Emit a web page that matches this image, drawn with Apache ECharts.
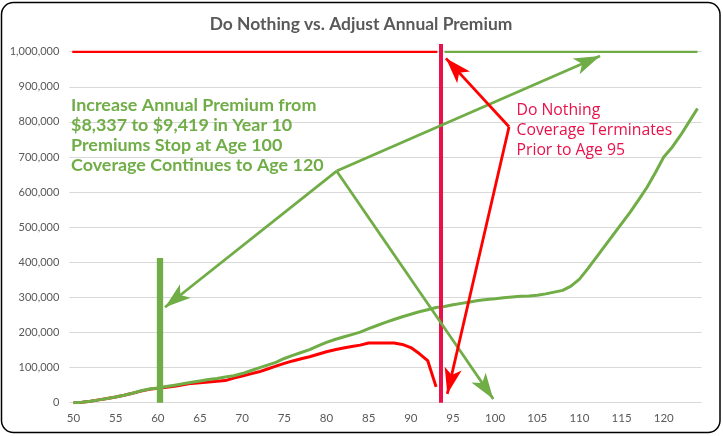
<!DOCTYPE html>
<html><head><meta charset="utf-8">
<script src="https://cdn.jsdelivr.net/npm/echarts@6/dist/echarts.min.js"></script>
<style>html,body{margin:0;padding:0;background:#fff}#c{width:723px;height:436px}</style>
</head><body><div id="c"></div>
<script>
// ---------- DATA ----------
const ages = ['50','51','52','53','54','55','56','57','58','59','60','61','62','63','64','65','66','67','68','69',
  '70','71','72','73','74','75','76','77','78','79','80','81','82','83','84','85','86','87','88','89',
  '90','91','92','93','94','95','96','97','98','99','100','101','102','103','104','105','106','107','108','109',
  '110','111','112','113','114','115','116','117','118','119','120','121','122','123','124'];

// Adjust Annual Premium - cash value (green)
const adjustCashValue = [0,1000,4000,8000,12000,16000,21000,27000,34000,39000,
  42000,46000,50000,54000,58000,62000,66000,69000,73000,77000,
  83000,91000,99000,107000,115000,126000,135000,143000,151000,162000,
  172000,180000,187000,194000,201000,211000,220000,229000,237000,245000,
  252000,259000,265000,271000,274000,279000,283000,287000,291000,294000,
  296000,299000,301000,303000,304000,306000,310000,315000,320000,332000,
  352000,382000,414000,446000,478000,510000,542000,577000,613000,655000,
  700000,728000,762000,800000,838000];

// Do Nothing - cash value (red), lapses before age 94
const doNothingCashValue = [0,1000,4000,8000,12000,16000,21000,27000,33000,38000,
  41000,44000,47000,51000,55000,57000,59000,61000,63000,70000,
  76000,82000,88000,96000,104000,112000,119000,125000,131000,138000,
  145000,151000,156000,160000,164000,170000,170000,170000,170000,166000,
  157000,140000,120000,45000,null,null,null,null,null,null,
  null,null,null,null,null,null,null,null,null,null,
  null,null,null,null,null,null,null,null,null,null,
  null,null,null,null,null];

// Death benefit lines
const doNothingDeathBenefit = [1000000,1000000,1000000,1000000,1000000,1000000,1000000,1000000,1000000,1000000,
  1000000,1000000,1000000,1000000,1000000,1000000,1000000,1000000,1000000,1000000,
  1000000,1000000,1000000,1000000,1000000,1000000,1000000,1000000,1000000,1000000,
  1000000,1000000,1000000,1000000,1000000,1000000,1000000,1000000,1000000,1000000,
  1000000,1000000,1000000,1000000,null,null,null,null,null,null,
  null,null,null,null,null,null,null,null,null,null,
  null,null,null,null,null,null,null,null,null,null,
  null,null,null,null,null];
const adjustDeathBenefit = [null,null,null,null,null,null,null,null,null,null,
  null,null,null,null,null,null,null,null,null,null,
  null,null,null,null,null,null,null,null,null,null,
  null,null,null,null,null,null,null,null,null,null,
  null,null,null,null,1000000,1000000,1000000,1000000,1000000,1000000,
  1000000,1000000,1000000,1000000,1000000,1000000,1000000,1000000,1000000,1000000,
  1000000,1000000,1000000,1000000,1000000,1000000,1000000,1000000,1000000,1000000,
  1000000,1000000,1000000,1000000,1000000];

// Annotation anchor points [age, dollars]
const greenHub = [81.2, 660000];
const greenTargets = [[112.44, 988000], [60.85, 272000], [99.78, 10500]];
const redHub = [101.65, 786000];
const redTargets = [[94.17, 981000], [94.33, 25000]];
const premiumBar = [[60.23, 0], [60.23, 412000]];
const lapseBar = [[93.58, 0], [93.58, 1022000]];

const titleText = 'Do Nothing vs. Adjust Annual Premium';
const greenNote = ['Increase Annual Premium from', '$8,337 to $9,419 in Year 10', 'Premiums Stop at Age 100', 'Coverage Continues to Age 120'];
const redNote = ['Do Nothing', 'Coverage Terminates', 'Prior to Age 95'];

// ---------- STYLE ----------
const GREEN = '#70AD47', RED = '#FF0000', CRIMSON = '#E8114A', GREY = '#595959';
const ctx = document.createElement('canvas').getContext('2d');
function fitSize(text, weight, family, target) {
  ctx.font = weight + ' 100px ' + family;
  return 100 * target / ctx.measureText(text).width;
}
const titleSize = fitSize(titleText, 'bold', 'Lato', 303);
const greenSize = fitSize(greenNote[0], 'bold', 'Lato', 245.6);
const redSize = fitSize(redNote[1], 'normal', '"Open Sans"', 155.7);

const chart = echarts.init(document.getElementById('c'), null, {renderer: 'canvas'});
const arrowMark = (color, hub, targets) => ({
  silent: true, animation: false,
  symbol: ['none', 'arrow'], symbolSize: [13, 26], symbolOffset: 0,
  label: {show: false},
  lineStyle: {color: color, width: 2.8, type: 'solid', opacity: 1},
  emphasis: {disabled: true},
  data: targets.map(t => [{coord: hub}, {coord: t}])
});

chart.setOption({
  animation: false,
  grid: [
    {left: 69.3, right: 21.3, top: 51.7, bottom: 33.3},
    {left: 69.3, right: 21.3, top: 16.6, bottom: 33.3}
  ],
  xAxis: [
    {type: 'category', gridIndex: 0, data: ages, boundaryGap: true,
     axisLine: {show: false}, axisTick: {show: false},
     axisLabel: {interval: (i) => i % 5 === 0, color: GREY, fontSize: 11.5, fontFamily: 'Lato', margin: 10}},
    {type: 'value', gridIndex: 1, min: 49.5, max: 124.5, show: false}
  ],
  yAxis: [
    {type: 'value', gridIndex: 0, min: 0, max: 1000000, interval: 100000,
     axisLine: {show: false}, axisTick: {show: false},
     splitLine: {lineStyle: {color: '#D9D9D9', width: 1}},
     axisLabel: {color: GREY, fontSize: 11, fontFamily: 'Lato', margin: 10,
                 formatter: v => v.toLocaleString('en-US')}},
    {type: 'value', gridIndex: 1, min: 0, max: 1100000, show: false}
  ],
  graphic: [
    {type: 'rect', shape: {x: 1.5, y: 2.5, width: 718.5, height: 430, r: 12},
     style: {fill: 'none', stroke: '#000', lineWidth: 1.5}, silent: true, z: 100},
    {type: 'text', x: 361, y: 24.5, silent: true,
     style: {text: titleText, fill: GREY, fontSize: titleSize, fontWeight: 'bold', fontFamily: 'Lato',
             align: 'center', verticalAlign: 'middle'}},
    {type: 'text', x: 71, y: 135.5, silent: true, z: 50,
     style: {text: greenNote.join('\n'), fill: GREEN, fontSize: greenSize, fontWeight: 'bold', fontFamily: 'Lato',
             lineHeight: 20.1, align: 'left', verticalAlign: 'middle'}},
    {type: 'text', x: 516.5, y: 130.7, silent: true, z: 50,
     style: {text: redNote.join('\n'), fill: CRIMSON, fontSize: redSize, fontWeight: 'normal', fontFamily: 'Open Sans',
             lineHeight: 20, align: 'left', verticalAlign: 'middle'}}
  ],
  series: [
    {name: 'Do Nothing Cash Value', type: 'line', data: doNothingCashValue, symbol: 'none',
     lineStyle: {color: RED, width: 3}, itemStyle: {color: RED}, silent: true},
    {name: 'Adjust Cash Value', type: 'line', data: adjustCashValue, symbol: 'none',
     lineStyle: {color: GREEN, width: 3}, itemStyle: {color: GREEN}, silent: true},
    {name: 'Adjust Death Benefit', type: 'line', data: adjustDeathBenefit, symbol: 'none',
     lineStyle: {color: GREEN, width: 2.5}, itemStyle: {color: GREEN}, silent: true},
    {name: 'Do Nothing Death Benefit', type: 'line', data: doNothingDeathBenefit, symbol: 'none',
     lineStyle: {color: RED, width: 2.5, cap: 'square'}, itemStyle: {color: RED}, silent: true},
    {name: 'bars', type: 'line', xAxisIndex: 1, yAxisIndex: 1, data: [], silent: true,
     markLine: {silent: true, animation: false, symbol: ['none', 'none'], label: {show: false},
       emphasis: {disabled: true},
       data: [
         [{coord: premiumBar[0], lineStyle: {color: GREEN, width: 6.3, type: 'solid'}}, {coord: premiumBar[1]}],
         [{coord: lapseBar[0], lineStyle: {color: CRIMSON, width: 4, type: 'solid'}}, {coord: lapseBar[1]}]
       ]}},
    {name: 'green arrows', type: 'line', xAxisIndex: 1, yAxisIndex: 1, data: [], silent: true,
     markLine: arrowMark(GREEN, greenHub, greenTargets)},
    {name: 'red arrows', type: 'line', xAxisIndex: 1, yAxisIndex: 1, data: [], silent: true,
     markLine: arrowMark(RED, redHub, redTargets)}
  ]
});
</script></body></html>
